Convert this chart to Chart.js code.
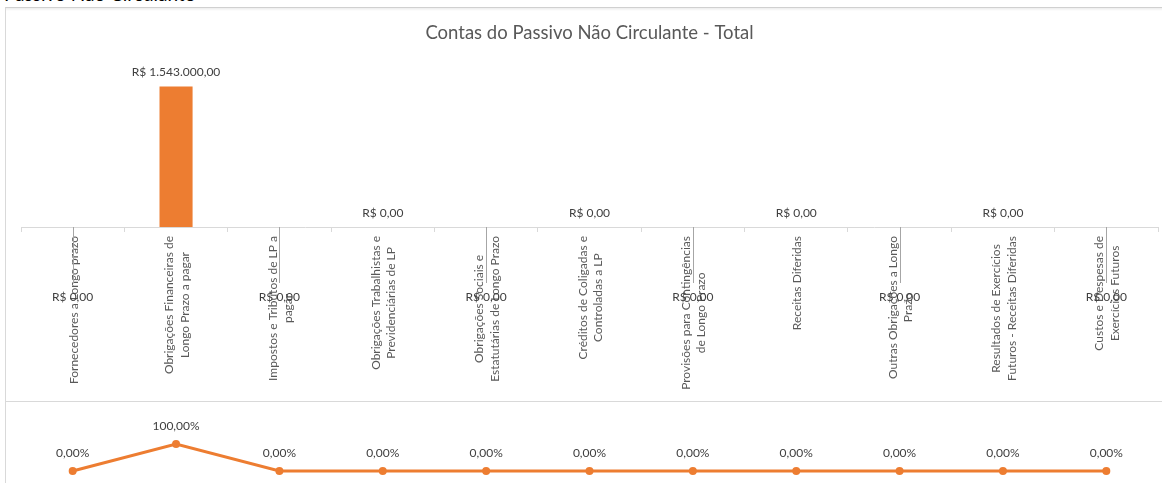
<!DOCTYPE html>
<html>
<head>
<meta charset="utf-8">
<script src="https://cdn.jsdelivr.net/npm/chart.js@4.4.1/dist/chart.umd.min.js"></script>
<style>
    html, body { margin: 0; background: #fff; overflow: hidden; }
    body { width: 1162px; height: 483px; position: relative; font-family: Lato, sans-serif; }
    #caption { position: absolute; left: 4px; top: -16px; font-size: 19px; line-height: 19px; color: #000; white-space: nowrap; }
    #box1 { position: absolute; left: 5px; top: 7px; right: -20px; height: 393px; border-top: 1px solid #d0d0d0; border-left: 1px solid #d9d9d9; }
    #shade { position: absolute; left: 6px; top: 8px; right: -20px; height: 3px; background: linear-gradient(rgba(0,0,0,0.07), rgba(0,0,0,0)); }
    #box2 { position: absolute; left: 5px; top: 401px; right: -20px; height: 100px; border-top: 1px solid #d9d9d9; border-left: 1px solid #d9d9d9; }
    canvas { position: absolute; left: 0; }
    #chart { top: 0; }
    #share { top: 402px; }
</style>
</head>
<body>
<div id="caption">Passivo Não Circulante</div>
<div id="box1"></div>
<div id="shade"></div>
<div id="box2"></div>
<canvas id="chart" width="1162" height="400"></canvas>
<canvas id="share" width="1162" height="81"></canvas>
<script>
const chartTitle = 'Contas do Passivo Não Circulante - Total'

// contas (rótulos quebrados em linhas como no Excel)
const categories = [
    ['Fornecedores a Longo prazo'],
    ['Obrigações Financeiras de', 'Longo Prazo a pagar'],
    ['Impostos e Tributos de LP a', 'pagar'],
    ['Obrigações Trabalhistas e', 'Previdenciárias de LP'],
    ['Obrigações Sociais e', 'Estatutárias de Longo Prazo'],
    ['Créditos de Coligadas e', 'Controladas a LP'],
    ['Provisões para Contingências', 'de Longo Prazo'],
    ['Receitas Diferidas'],
    ['Outras Obrigações a Longo', 'Prazo'],
    ['Resultados de Exercícios', 'Futuros - Receitas Diferidas'],
    ['Custos e Despesas de', 'Exercícios Futuros']
]
const totals = [0, 1543000, 0, 0, 0, 0, 0, 0, 0, 0, 0]
const shares = [0, 1, 0, 0, 0, 0, 0, 0, 0, 0, 0]

const orange = '#ED7D31'
const labelFont = '12px Lato'

const brl = v => {
    const [int, dec] = v.toFixed(2).split('.')
    return 'R$ ' + int.replace(/\B(?=(\d{3})+(?!\d))/g, '.') + ',' + dec
}
const pct = v => (v * 100).toFixed(2).replace('.', ',') + '%'

// rótulos das categorias e dos valores desenhados à mão (o Excel gira o texto para cima)
const barLabels = {
    id: 'barLabels',
    afterDraw(chart){
        const ctx = chart.ctx
        const x = chart.scales.x
        const y = chart.scales.y
        const axisY = y.getPixelForValue(0)

        ctx.save()
        ctx.font = labelFont
        ctx.fillStyle = '#595959'
        categories.forEach((lines, i) => {
            const cx = x.getPixelForValue(i)
            const span = Math.max(...lines.map(l => ctx.measureText(l).width))
            ctx.save()
            ctx.translate(cx + 1, axisY + 9)
            ctx.rotate(-Math.PI / 2)
            ctx.textAlign = 'center'
            ctx.textBaseline = 'middle'
            lines.forEach((l, k) => ctx.fillText(l, -span / 2, (k - (lines.length - 1) / 2) * 15.5))
            ctx.restore()
        })

        ctx.fillStyle = '#404040'
        ctx.textAlign = 'center'
        ctx.textBaseline = 'middle'
        totals.forEach((v, i) => {
            const cx = x.getPixelForValue(i)
            if(v > 0){
                ctx.fillText(brl(v), cx, y.getPixelForValue(v) - 14)
            }
            else if(i % 2 === 1){
                ctx.fillText(brl(v), cx, axisY - 14)
            }
            else{
                ctx.strokeStyle = '#a6a6a6'
                ctx.lineWidth = 1
                ctx.beginPath()
                ctx.moveTo(Math.round(cx) + 0.5, axisY)
                ctx.lineTo(Math.round(cx) + 0.5, axisY + 56)
                ctx.stroke()
                ctx.fillText(brl(v), cx, axisY + 70)
            }
        })
        ctx.restore()
    }
}

const shareLabels = {
    id: 'shareLabels',
    afterDatasetsDraw(chart){
        const ctx = chart.ctx
        const x = chart.scales.x
        const y = chart.scales.y
        ctx.save()
        ctx.font = labelFont
        ctx.fillStyle = '#404040'
        ctx.textAlign = 'center'
        ctx.textBaseline = 'middle'
        shares.forEach((v, i) => {
            ctx.fillText(pct(v), x.getPixelForValue(i), y.getPixelForValue(v) - 18)
        })
        ctx.restore()
    }
}

const chart = new Chart(document.getElementById('chart').getContext('2d'), {
    type: 'bar',
    data: {
        labels: categories,
        datasets: [
            {
                data: totals,
                backgroundColor: orange,
                categoryPercentage: 1,
                barPercentage: 0.32
            }
        ]
    },
    options: {
        responsive: false,
        animation: false,
        layout: {
            padding: { left: 21, right: 4, top: 0, bottom: 0 }
        },
        plugins: {
            legend: { display: false },
            tooltip: { enabled: false },
            title: {
                display: true,
                text: chartTitle,
                color: '#595959',
                font: { family: 'Lato', size: 18.5, weight: 'normal' },
                padding: { top: 22, bottom: 19 }
            }
        },
        scales: {
            x: {
                grid: { display: true, drawOnChartArea: false, drawTicks: true, tickLength: 5, color: '#d9d9d9', offset: true },
                border: { color: '#d9d9d9' },
                ticks: { display: false },
                afterFit: s => { s.height = 173 }
            },
            y: {
                display: false,
                min: 0,
                max: 1800000
            }
        }
    },
    plugins: [barLabels]
})

const shareChart = new Chart(document.getElementById('share').getContext('2d'), {
    type: 'line',
    data: {
        labels: categories,
        datasets: [
            {
                data: shares,
                borderColor: orange,
                backgroundColor: orange,
                pointBackgroundColor: orange,
                pointBorderWidth: 0,
                pointRadius: 4,
                borderWidth: 3,
                tension: 0,
                clip: false
            }
        ]
    },
    options: {
        responsive: false,
        animation: false,
        layout: {
            padding: { left: 21, right: 4, top: 42, bottom: 12 }
        },
        plugins: {
            legend: { display: false },
            tooltip: { enabled: false }
        },
        scales: {
            x: { display: false, offset: true },
            y: { display: false, min: 0, max: 1 }
        }
    },
    plugins: [shareLabels]
})
</script>
</body>
</html>
